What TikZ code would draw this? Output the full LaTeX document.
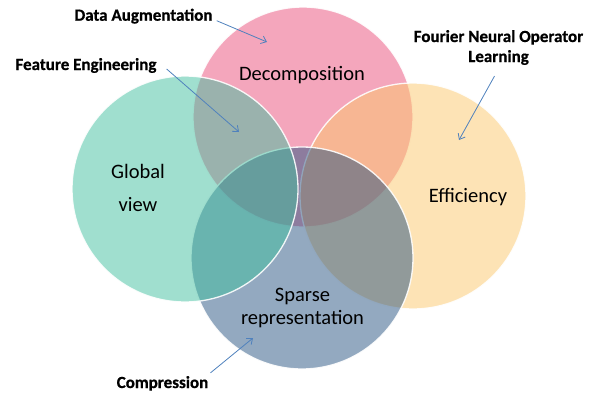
\documentclass[tikz,border=0pt]{standalone}
\usepackage{fontspec}
\setmainfont[BoldFeatures={FakeBold=0.7}]{Carlito}
\usetikzlibrary{arrows.meta}
\definecolor{pinkc}{RGB}{233,77,121}
\definecolor{greenc}{RGB}{65,191,159}
\definecolor{orangec}{RGB}{251,199,107}
\definecolor{bluec}{RGB}{39,83,129}
\definecolor{arrowc}{RGB}{79,129,189}
\tikzset{
  venn/.style={circle, inner sep=0pt, fill opacity=0.5, draw=white, draw opacity=0.9, line width=1.3pt},
  biglabel/.style={inner sep=0pt, font=\fontsize{20.5}{23}\selectfont, text=black},
  annot/.style={inner sep=0pt, font=\fontsize{17}{20}\selectfont\bfseries, text=black},
  pointer/.style={draw=arrowc, line width=0.8pt, -{Straight Barb[length=5pt,width=8pt]}}
}
\begin{document}
\begin{tikzpicture}[x=1pt,y=-1pt]
\useasboundingbox (0,0) rectangle (592,394);
% circles
\node[venn, fill=pinkc, minimum size=220pt] (dec) at (303,117) {};
\node[venn, fill=orangec, minimum size=226pt] (eff) at (413,196) {};
\node[venn, fill=bluec, minimum size=222pt] (spa) at (302,258) {};
\node[venn, fill=greenc, minimum size=226pt] (glo) at (185,189) {};
% circle labels
\node[biglabel, anchor=base] (tdec) at (302,80) {Decomposition};
\node[biglabel, anchor=base] (teff) at (468,202) {Efficiency};
\node[biglabel, anchor=base, align=center, font=\fontsize{20.5}{33}\selectfont] (tglo) at (138,211) {Global\\view};
\node[biglabel, anchor=base, align=center, font=\fontsize{20.5}{23}\selectfont] (tspa) at (302.5,324) {Sparse\\representation};
% annotations
\node[annot, anchor=base] (da) at (143.5,20.7) {Data Augmentation};
\node[annot, anchor=base] (fe) at (86,70) {Feature Engineering};
\node[annot, anchor=base, align=center] (fno) at (498.5,62) {Fourier Neural Operator\\Learning};
\node[annot, anchor=base] (comp) at (162.5,388) {Compression};
% arrow tips
\coordinate (daend) at (267,42);
\coordinate (feend) at (239,132);
\coordinate (fnoend) at (459,140);
\coordinate (compend) at (253,338);
\draw[pointer] ([xshift=4pt]da.base east) -- (daend);
\draw[pointer] ([xshift=10pt,yshift=1pt]fe.base east) -- (feend);
\draw[pointer] ([xshift=-4pt,yshift=-11pt]fno.south) -- (fnoend);
\draw[pointer] ([xshift=2pt,yshift=3pt]comp.north east) -- (compend);
\end{tikzpicture}
\end{document}
